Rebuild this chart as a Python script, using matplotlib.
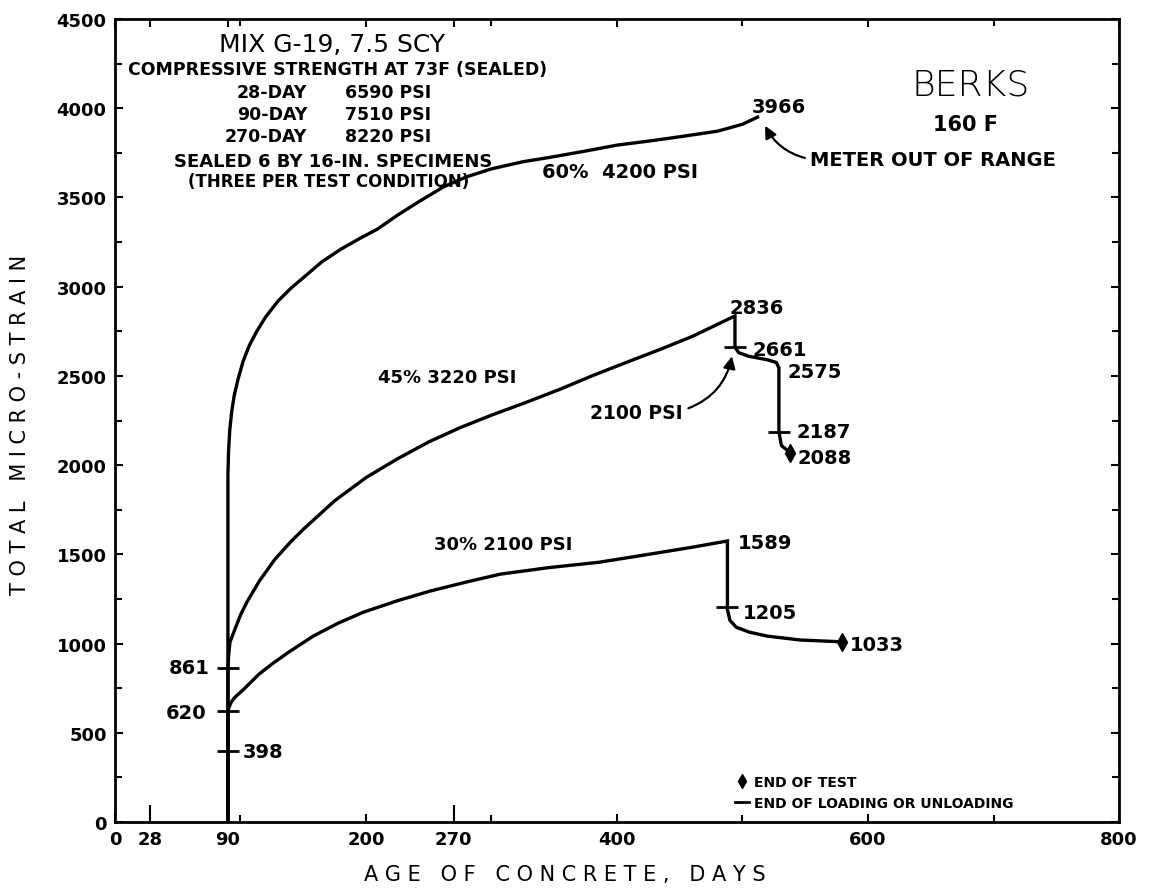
"""Creep curves, Berks aggregate, 160 F."""
import matplotlib

matplotlib.use("Agg")
import matplotlib.pyplot as plt
from matplotlib.lines import Line2D

# 60% load (4200 psi)
days_60 = [90, 90, 90.5, 91.5, 93, 95, 98, 102, 107, 113, 120, 130, 140, 150, 165,
           180, 195, 209, 225, 243, 262, 280, 300, 325, 347, 375, 400, 430, 453, 480,
           500, 512]
strain_60 = [0, 1950, 2080, 2200, 2300, 2390, 2480, 2580, 2670, 2750, 2830, 2920, 2990,
             3050, 3140, 3210, 3270, 3322, 3400, 3480, 3560, 3615, 3660, 3700, 3725, 3760,
             3793, 3820, 3843, 3871, 3910, 3950]

# 45% load (3220 psi), partly unloaded to 2100 psi then fully unloaded
days_45 = [90, 90, 90.5, 91.6, 95, 100, 105, 115, 127.5, 140, 150, 175, 200, 225, 250,
           275, 300, 327, 354.6, 380, 408, 435, 460.6, 494,
           494, 497, 505, 520, 527, 529, 529, 531, 538]
strain_45 = [0, 861, 930, 1008, 1070, 1160, 1231, 1350, 1473, 1570, 1640, 1800, 1930,
             2035, 2130, 2210, 2280, 2350, 2425, 2500, 2577, 2650, 2723, 2836,
             2661, 2630, 2610, 2590, 2575, 2545, 2187, 2110, 2070]

# 30% load (2100 psi), then unloaded
days_30 = [90, 90, 91, 92.5, 95, 98, 102, 107, 115, 125, 138, 158, 178, 198, 225, 251,
           280, 307, 345, 386, 426, 460, 488,
           488, 490, 495, 505, 519.5, 546, 579]
strain_30 = [0, 620, 645, 670, 695, 715, 740, 775, 830, 885, 950, 1042, 1115, 1176, 1240,
             1294, 1345, 1389, 1425, 1456, 1501, 1540, 1575,
             1190, 1130, 1092, 1065, 1042, 1020, 1010]

# end of loading / unloading marks
load_days = [90, 90, 90, 494, 529, 488]
load_strain = [398, 620, 861, 2661, 2187, 1205]

# end of test marks
end_days = [538, 579]
end_strain = [2070, 1010]

x_ticks = [0, 28, 90, 200, 270, 400, 600, 800]
x_minor = [100, 300, 500, 700]
long_ticks = [28, 270]

plt.rcParams["font.family"] = ["DejaVu Sans"]

fig = plt.figure(figsize=(11.51, 8.95), dpi=100)
ax = fig.add_axes([0.0999, 0.0804, 0.8723, 0.8973])

line_kw = dict(color="black", lw=2.4, solid_joinstyle="miter")
ax.plot(days_60, strain_60, **line_kw)
ax.plot(days_45, strain_45, **line_kw)
ax.plot(days_30, strain_30, **line_kw)
ax.plot(load_days, load_strain, ls="none", marker="_", ms=16, mew=2, color="black")
ax.plot(end_days, end_strain, ls="none", marker="d", ms=9, color="black")

ax.set_xlim(0, 800)
ax.set_ylim(0, 4500)
ax.set_xticks(x_ticks)
ax.set_xticks(x_minor, minor=True)
ax.set_yticks(range(0, 4501, 500))
ax.set_yticks(range(250, 4500, 500), minor=True)
ax.tick_params(which="both", direction="in", top=True, right=True, width=1.5)
ax.tick_params(which="major", length=6, labelsize=13, pad=6)
ax.tick_params(which="minor", length=5)
for val, tick in zip(x_ticks, ax.xaxis.get_major_ticks()):
    if val in long_ticks:
        tick.tick1line.set_markersize(12)
for lab in ax.get_xticklabels() + ax.get_yticklabels():
    lab.set_fontweight("bold")
for sp in ax.spines.values():
    sp.set_linewidth(2)

ax.set_xlabel("A G E   O F   C O N C R E T E ,   D A Y S", fontsize=15)
ax.xaxis.set_label_coords(0.448, -0.052)
ax.set_ylabel("T O T A L   M I C R O - S T R A I N", fontsize=15)
ax.yaxis.set_label_coords(-0.085, 0.496)

# specimen notes
bold = dict(fontweight="bold", ha="center", va="center")
ax.text(173, 4358, "MIX G-19, 7.5 SCY", fontsize=18, ha="center", va="center")
ax.text(177, 4218, "COMPRESSIVE STRENGTH AT 73F (SEALED)", fontsize=12.5, **bold)
note_rows = [("28-DAY", "6590 PSI", 4090), ("90-DAY", "7510 PSI", 3966),
             ("270-DAY", "8220 PSI", 3843)]
for age, psi, yy in note_rows:
    ax.text(153, yy, age, fontsize=12.5, fontweight="bold", ha="right", va="center")
    ax.text(183, yy, psi, fontsize=12.5, fontweight="bold", ha="left", va="center")
ax.text(174, 3703, "SEALED 6 BY 16-IN. SPECIMENS", fontsize=13, **bold)
ax.text(170, 3591, "(THREE PER TEST CONDITION)", fontsize=12, **bold)

ax.text(682, 4134, "BERKS", fontsize=26, ha="center", va="center", fontweight="light")
ax.text(678, 3910, "160 F", fontsize=15, **bold)

# curve labels
ax.text(402, 3647, "60%  4200 PSI", fontsize=14, **bold)
ax.text(264.5, 2493, "45% 3220 PSI", fontsize=13, **bold)
ax.text(309, 1557, "30% 2100 PSI", fontsize=13, **bold)

ax.text(529, 4011, "3966", fontsize=14, **bold)
ax.text(511, 2885, "2836", fontsize=14, **bold)
ax.text(496, 1569, "1589", fontsize=14, ha="left", va="center", fontweight="bold")

left = dict(fontweight="bold", ha="left", va="center", fontsize=14)
ax.text(508, 2650, "2661", **left)
ax.text(535.5, 2527, "2575", **left)
ax.text(543, 2190, "2187", **left)
ax.text(544, 2045, "2088", **left)
ax.text(500, 1176, "1205", **left)
ax.text(585.6, 997, "1033", **left)
ax.text(102, 397, "398", **left)
right = dict(fontweight="bold", ha="right", va="center", fontsize=14)
ax.text(75.7, 867, "861", **right)
ax.text(73, 616, "620", **right)

ax.annotate("METER OUT OF RANGE", xy=(517, 3915), xytext=(554, 3714),
            fontsize=14, fontweight="bold", ha="left", va="center",
            arrowprops=dict(arrowstyle="-|>", color="black", lw=1.6, relpos=(0, 0.5),
                            connectionstyle="arc3,rad=-0.25", mutation_scale=18))
ax.annotate("2100 PSI", xy=(492, 2625), xytext=(452.6, 2297),
            fontsize=13.5, fontweight="bold", ha="right", va="center",
            arrowprops=dict(arrowstyle="-|>", color="black", lw=1.6, relpos=(1, 0.6),
                            connectionstyle="arc3,rad=0.3", mutation_scale=18))

handles = [
    Line2D([], [], ls="none", marker="d", ms=7, color="black"),
    Line2D([], [], ls="-", lw=2, color="black"),
]
ax.legend(handles, ["END OF TEST", "END OF LOADING OR UNLOADING"],
          loc="lower left", bbox_to_anchor=(0.605, 0.0), frameon=False,
          prop=dict(size=10, weight="bold"), handlelength=1.0,
          handletextpad=0.4, labelspacing=0.5)

fig.savefig("out.png", dpi=100)
